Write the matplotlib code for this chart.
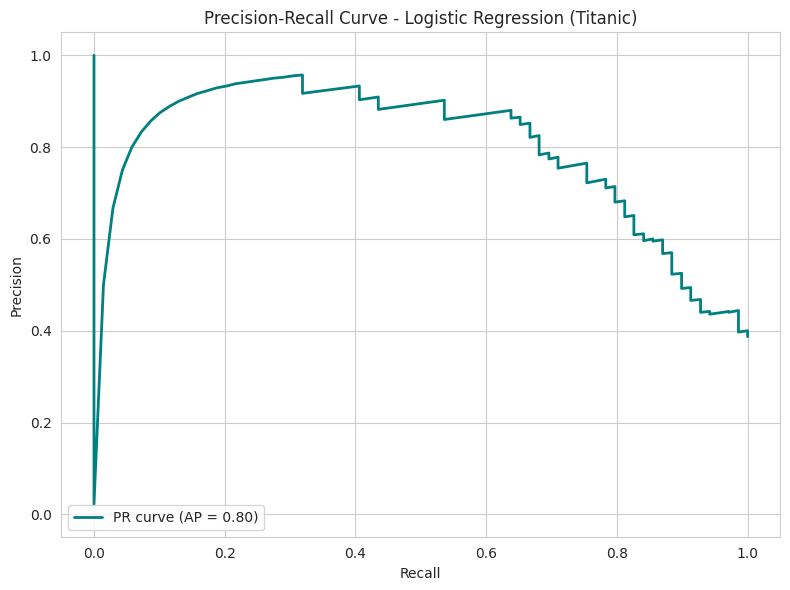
import numpy as np
import matplotlib
matplotlib.use("Agg")
import matplotlib.pyplot as plt
import seaborn as sns

# values
recall = [0.0, 0.0,
          0.0145, 0.029, 0.0435, 0.058, 0.0725, 0.087, 0.101, 0.116, 0.130, 0.145,
          0.159, 0.174, 0.188, 0.203, 0.217, 0.232, 0.246, 0.261, 0.275, 0.290,
          0.304, 0.319,
          0.319, 0.406, 0.406, 0.435, 0.435, 0.536, 0.536, 0.638, 0.638, 0.652,
          0.652, 0.667, 0.667, 0.681, 0.681, 0.696, 0.696, 0.710, 0.710, 0.754,
          0.754, 0.783, 0.783, 0.797, 0.797, 0.812, 0.812, 0.826, 0.826, 0.841,
          0.841, 0.855, 0.855, 0.870, 0.870, 0.884, 0.884, 0.899, 0.899, 0.913,
          0.913, 0.928, 0.928, 0.942, 0.942, 0.957, 0.971, 0.971, 0.986, 0.986,
          1.0, 1.0]
precision = [1.0, 0.022,
             0.500, 0.667, 0.750, 0.800, 0.833, 0.857, 0.875, 0.889, 0.900, 0.909,
             0.917, 0.923, 0.929, 0.933, 0.938, 0.941, 0.944, 0.947, 0.950, 0.952,
             0.955, 0.957,
             0.917, 0.933, 0.903, 0.909, 0.882, 0.902, 0.860, 0.880, 0.863, 0.865,
             0.849, 0.852, 0.821, 0.825, 0.783, 0.787, 0.774, 0.778, 0.754, 0.765,
             0.722, 0.730, 0.711, 0.714, 0.680, 0.683, 0.648, 0.651, 0.609, 0.611,
             0.596, 0.600, 0.595, 0.598, 0.568, 0.570, 0.523, 0.525, 0.492, 0.494,
             0.466, 0.468, 0.440, 0.442, 0.436, 0.439, 0.442, 0.440, 0.444, 0.397,
             0.400, 0.387]
ap = 0.80

sns.set_style("whitegrid")
plt.figure(figsize=(7.9, 5.9), dpi=100)
plt.plot(recall, precision, color="teal", lw=2, label="PR curve (AP = %.2f)" % ap)
plt.ylim(-0.05, 1.05)
plt.xlabel("Recall")
plt.ylabel("Precision")
plt.title("Precision-Recall Curve - Logistic Regression (Titanic)")
plt.legend(loc="lower left")
plt.subplots_adjust(left=0.0776, right=0.9877, top=0.9453, bottom=0.0893)
plt.savefig("out.png")
